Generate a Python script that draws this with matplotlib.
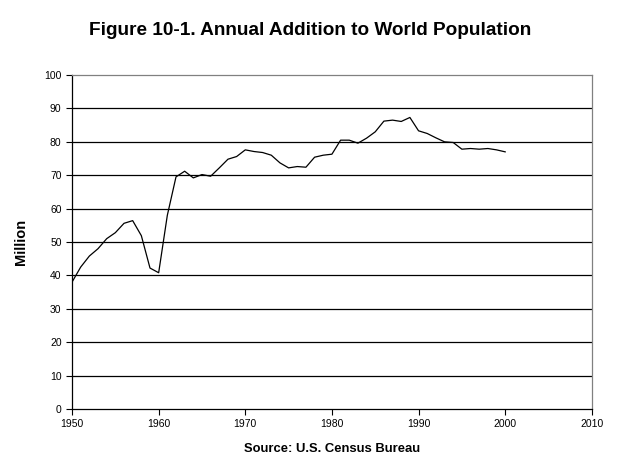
import matplotlib
matplotlib.use("Agg")
import matplotlib.pyplot as plt

plt.rcParams['font.family'] = ['Liberation Sans', 'DejaVu Sans']

# data (million people added per year)
years = list(range(1950, 2001))
additions = [
    38.0, 42.5, 45.8, 48.0, 51.0, 52.8, 55.6, 56.4, 51.9, 42.2,
    40.8, 58.0, 69.5, 71.2, 69.2, 70.2, 69.7, 72.2, 74.8, 75.6,
    77.6, 77.1, 76.8, 76.0, 73.7, 72.2, 72.6, 72.4, 75.4, 76.0,
    76.3, 80.5, 80.5, 79.6, 81.1, 83.0, 86.2, 86.5, 86.1, 87.3,
    83.3, 82.5, 81.2, 80.0, 79.8, 77.8, 78.0, 77.8, 78.0, 77.6,
    77.0,
]
x_ticks = list(range(1950, 2011, 10))
y_ticks = list(range(0, 101, 10))

fig = plt.figure(figsize=(6.21, 4.75), dpi=100)
ax = fig.add_axes([0.116, 0.139, 0.837, 0.703])

ax.plot(years, additions, color='black', linewidth=0.9)

ax.set_xlim(1950, 2010)
ax.set_ylim(0, 100)
ax.set_xticks(x_ticks)
ax.set_yticks(y_ticks)
ax.tick_params(labelsize=7.5, length=4, width=0.8, direction='out')

# horizontal gridlines
for v in y_ticks[1:-1]:
    ax.axhline(v, color='black', linewidth=0.9, zorder=0)

ax.spines['left'].set_color('black')
ax.spines['bottom'].set_color('black')
ax.spines['top'].set_color('#808080')
ax.spines['right'].set_color('#808080')
for s in ax.spines.values():
    s.set_linewidth(0.9)

ax.set_ylabel('Million', fontsize=10.5, fontweight='bold', labelpad=12)
ax.set_xlabel('Source: U.S. Census Bureau', fontsize=9.4, fontweight='bold', labelpad=10)

fig.text(0.5, 0.935, 'Figure 10-1. Annual Addition to World Population',
         ha='center', va='center', fontsize=13.7, fontweight='bold')

fig.savefig('out.png', dpi=100)
